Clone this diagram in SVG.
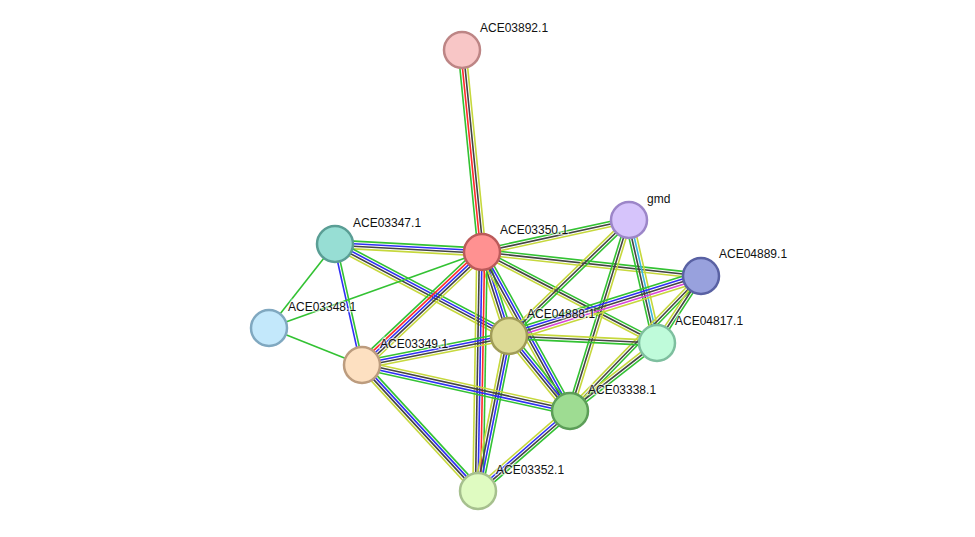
<svg xmlns="http://www.w3.org/2000/svg" width="975" height="537" viewBox="0 0 975 537">
<style>
#edges line{stroke-width:1.6;fill:none}
.g{stroke:#33c233}.r{stroke:#ff2a2a}.b{stroke:#2f2ff5}.k{stroke:#444}.y{stroke:#c6d83c}.m{stroke:#d844d8}.c{stroke:#3bb6de}
.n{stroke-width:2.5}
text{font-family:"Liberation Sans",Arial,sans-serif;font-size:12px;fill:#111;stroke:#fff;stroke-width:2.5;stroke-opacity:0.55;paint-order:stroke}
</style>
<rect width="975" height="537" fill="#fff"/>
<g id="edges">
<g transform="translate(482 252) rotate(-95.65)"><line x2="203" y1="-3.9" y2="-3.9" class="g"/><line x2="203" y1="-1.3" y2="-1.3" class="r"/><line x2="203" y1="1.3" y2="1.3" class="k"/><line x2="203" y1="3.9" y2="3.9" class="y"/></g>
<g transform="translate(482 252) rotate(-176.88)"><line x2="147.2" y1="-3.9" y2="-3.9" class="y"/><line x2="147.2" y1="-1.3" y2="-1.3" class="k"/><line x2="147.2" y1="1.3" y2="1.3" class="b"/><line x2="147.2" y1="3.9" y2="3.9" class="g"/></g>
<g transform="translate(335 244) rotate(27.87)"><line x2="196.8" y1="-3.9" y2="-3.9" class="g"/><line x2="196.8" y1="-1.3" y2="-1.3" class="b"/><line x2="196.8" y1="1.3" y2="1.3" class="k"/><line x2="196.8" y1="3.9" y2="3.9" class="y"/></g>
<g transform="translate(335 244) rotate(128.16)"><line x2="106.8" class="g"/></g>
<g transform="translate(335 244) rotate(77.42)"><line x2="124" y1="-1.3" y2="-1.3" class="g"/><line x2="124" y1="1.3" y2="1.3" class="b"/></g>
<g transform="translate(269 328) rotate(-19.64)"><line x2="226.2" class="g"/></g>
<g transform="translate(269 328) rotate(21.70)"><line x2="100.1" class="g"/></g>
<g transform="translate(482 252) rotate(136.72)"><line x2="164.8" y1="-5.2" y2="-5.2" class="y"/><line x2="164.8" y1="-2.6" y2="-2.6" class="k"/><line x2="164.8" class="b"/><line x2="164.8" y1="2.6" y2="2.6" class="r"/><line x2="164.8" y1="5.2" y2="5.2" class="g"/></g>
<g transform="translate(482 252) rotate(72.18)"><line x2="88.2" y1="-3.9" y2="-3.9" class="g"/><line x2="88.2" y1="-1.3" y2="-1.3" class="b"/><line x2="88.2" y1="1.3" y2="1.3" class="k"/><line x2="88.2" y1="3.9" y2="3.9" class="y"/></g>
<g transform="translate(482 252) rotate(90.96)"><line x2="239" y1="-5.2" y2="-5.2" class="g"/><line x2="239" y1="-2.6" y2="-2.6" class="r"/><line x2="239" class="b"/><line x2="239" y1="2.6" y2="2.6" class="k"/><line x2="239" y1="5.2" y2="5.2" class="y"/></g>
<g transform="translate(482 252) rotate(61.04)"><line x2="181.7" y1="-3.9" y2="-3.9" class="g"/><line x2="181.7" y1="-1.3" y2="-1.3" class="b"/><line x2="181.7" y1="1.3" y2="1.3" class="k"/><line x2="181.7" y1="3.9" y2="3.9" class="y"/></g>
<g transform="translate(482 252) rotate(27.47)"><line x2="197.2" y1="-2.6" y2="-2.6" class="g"/><line x2="197.2" class="k"/><line x2="197.2" y1="2.6" y2="2.6" class="y"/></g>
<g transform="translate(482 252) rotate(6.25)"><line x2="220.3" y1="-2.6" y2="-2.6" class="g"/><line x2="220.3" class="k"/><line x2="220.3" y1="2.6" y2="2.6" class="y"/></g>
<g transform="translate(482 252) rotate(-12.28)"><line x2="150.4" y1="-2.6" y2="-2.6" class="g"/><line x2="150.4" class="k"/><line x2="150.4" y1="2.6" y2="2.6" class="y"/></g>
<g transform="translate(629 220) rotate(135.97)"><line x2="166.9" y1="-2.6" y2="-2.6" class="g"/><line x2="166.9" class="k"/><line x2="166.9" y1="2.6" y2="2.6" class="y"/></g>
<g transform="translate(629 220) rotate(107.17)"><line x2="199.9" y1="-2.6" y2="-2.6" class="y"/><line x2="199.9" class="k"/><line x2="199.9" y1="2.6" y2="2.6" class="g"/></g>
<g transform="translate(629 220) rotate(77.18)"><line x2="126.1" y1="-3.9" y2="-3.9" class="y"/><line x2="126.1" y1="-1.3" y2="-1.3" class="c"/><line x2="126.1" y1="1.3" y2="1.3" class="k"/><line x2="126.1" y1="3.9" y2="3.9" class="g"/></g>
<g transform="translate(701 276) rotate(162.65)"><line x2="201.2" y1="-5.2" y2="-5.2" class="y"/><line x2="201.2" y1="-2.6" y2="-2.6" class="m"/><line x2="201.2" class="k"/><line x2="201.2" y1="2.6" y2="2.6" class="b"/><line x2="201.2" y1="5.2" y2="5.2" class="g"/></g>
<g transform="translate(701 276) rotate(134.14)"><line x2="188.1" y1="-2.6" y2="-2.6" class="g"/><line x2="188.1" class="k"/><line x2="188.1" y1="2.6" y2="2.6" class="y"/></g>
<g transform="translate(701 276) rotate(123.30)"><line x2="80.2" y1="-2.6" y2="-2.6" class="g"/><line x2="80.2" class="k"/><line x2="80.2" y1="2.6" y2="2.6" class="y"/></g>
<g transform="translate(509 336) rotate(2.71)"><line x2="148.2" y1="-2.6" y2="-2.6" class="y"/><line x2="148.2" class="k"/><line x2="148.2" y1="2.6" y2="2.6" class="g"/></g>
<g transform="translate(509 336) rotate(50.88)"><line x2="96.7" y1="-3.9" y2="-3.9" class="g"/><line x2="96.7" y1="-1.3" y2="-1.3" class="b"/><line x2="96.7" y1="1.3" y2="1.3" class="k"/><line x2="96.7" y1="3.9" y2="3.9" class="y"/></g>
<g transform="translate(509 336) rotate(101.31)"><line x2="158.1" y1="-3.9" y2="-3.9" class="g"/><line x2="158.1" y1="-1.3" y2="-1.3" class="b"/><line x2="158.1" y1="1.3" y2="1.3" class="k"/><line x2="158.1" y1="3.9" y2="3.9" class="y"/></g>
<g transform="translate(509 336) rotate(168.84)"><line x2="149.8" y1="-3.9" y2="-3.9" class="y"/><line x2="149.8" y1="-1.3" y2="-1.3" class="k"/><line x2="149.8" y1="1.3" y2="1.3" class="b"/><line x2="149.8" y1="3.9" y2="3.9" class="g"/></g>
<g transform="translate(657 343) rotate(141.99)"><line x2="110.4" y1="-2.6" y2="-2.6" class="g"/><line x2="110.4" class="k"/><line x2="110.4" y1="2.6" y2="2.6" class="y"/></g>
<g transform="translate(362 365) rotate(12.47)"><line x2="213" y1="-3.9" y2="-3.9" class="y"/><line x2="213" y1="-1.3" y2="-1.3" class="k"/><line x2="213" y1="1.3" y2="1.3" class="b"/><line x2="213" y1="3.9" y2="3.9" class="g"/></g>
<g transform="translate(362 365) rotate(47.37)"><line x2="171.3" y1="-3.9" y2="-3.9" class="g"/><line x2="171.3" y1="-1.3" y2="-1.3" class="b"/><line x2="171.3" y1="1.3" y2="1.3" class="k"/><line x2="171.3" y1="3.9" y2="3.9" class="y"/></g>
<g transform="translate(570 411) rotate(138.99)"><line x2="121.9" y1="-3.9" y2="-3.9" class="g"/><line x2="121.9" y1="-1.3" y2="-1.3" class="k"/><line x2="121.9" y1="1.3" y2="1.3" class="b"/><line x2="121.9" y1="3.9" y2="3.9" class="y"/></g>
</g>
<g id="ACE03892.1"><circle cx="462" cy="50" r="18" class="n" fill="#f8c6c6" stroke="#bd8585"/><text x="480" y="32">ACE03892.1</text></g>
<g id="ACE03350.1"><circle cx="482" cy="252" r="18" class="n" fill="#ff9191" stroke="#bb5a5a"/><text x="500" y="234">ACE03350.1</text></g>
<g id="gmd"><circle cx="629" cy="220" r="18" class="n" fill="#d6c4fb" stroke="#9c86c8"/><text x="647" y="203">gmd</text></g>
<g id="ACE04889.1"><circle cx="701" cy="276" r="18" class="n" fill="#98a1dd" stroke="#5961a3"/><text x="719" y="258">ACE04889.1</text></g>
<g id="ACE03347.1"><circle cx="335" cy="244" r="18" class="n" fill="#97ded4" stroke="#5a9e95"/><text x="353" y="227">ACE03347.1</text></g>
<g id="ACE03348.1"><circle cx="269" cy="328" r="18" class="n" fill="#c3e8fb" stroke="#80a8c0"/><text x="288" y="311">ACE03348.1</text></g>
<g id="ACE04888.1"><circle cx="509" cy="336" r="18" class="n" fill="#dcda95" stroke="#a09c58"/><text x="527" y="318">ACE04888.1</text></g>
<g id="ACE04817.1"><circle cx="657" cy="343" r="18" class="n" fill="#bffbda" stroke="#7ebf9f"/><text x="675" y="325">ACE04817.1</text></g>
<g id="ACE03349.1"><circle cx="362" cy="365" r="18" class="n" fill="#fde0c1" stroke="#bc9c7e"/><text x="380" y="348">ACE03349.1</text></g>
<g id="ACE03338.1"><circle cx="570" cy="411" r="18" class="n" fill="#9edc92" stroke="#5c9e58"/><text x="588" y="394">ACE03338.1</text></g>
<g id="ACE03352.1"><circle cx="478" cy="491" r="18" class="n" fill="#dffbc1" stroke="#a6c08e"/><text x="496" y="474">ACE03352.1</text></g>
</svg>
